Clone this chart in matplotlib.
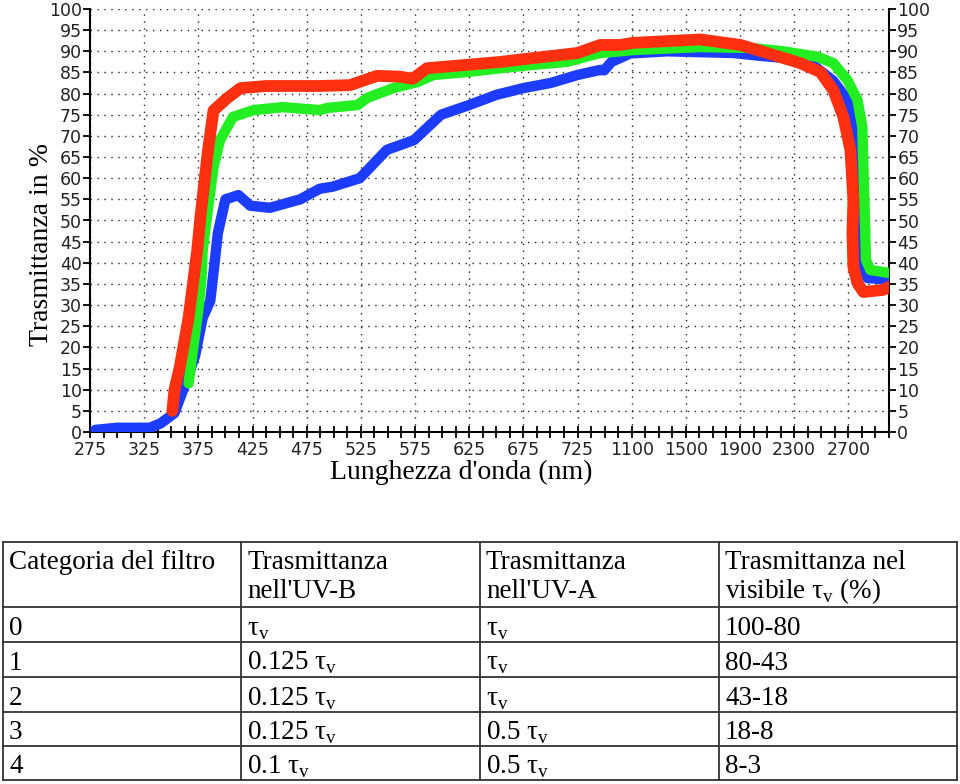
import numpy as np
import matplotlib
matplotlib.use("Agg")
import matplotlib.pyplot as plt
from matplotlib.ticker import FixedLocator, NullFormatter

plt.rcParams['mathtext.fontset'] = 'custom'
plt.rcParams['mathtext.rm'] = 'Liberation Serif'

# x axis labels (the axis is piecewise: 50 nm steps, then 400 nm steps)
tick_wl = [275, 325, 375, 425, 475, 525, 575, 625, 675, 725, 1100, 1500, 1900, 2300, 2700]
yticks = list(range(0, 101, 5))

# curves (wavelength nm, transmittance %)
blue_wl = [280, 300, 330, 340, 353, 361, 372, 379, 386, 390, 393, 400, 412, 423, 441, 469, 487,
           499, 524, 549, 574, 599, 625, 650, 675, 700, 725, 882, 910, 960, 1090, 1363, 1851,
           2028, 2200, 2450, 2589, 2693, 2752, 2775, 2789, 2841, 3000]
blue_t = [0.5, 1, 1, 2, 4.5, 10, 18, 27, 31, 40, 47, 55, 56, 53.5, 53, 55, 57.5,
          58, 60, 66.7, 69, 75, 77.3, 79.7, 81.3, 82.5, 84.4, 85.6, 85.5, 87.5, 89.5, 90, 89.6,
          89, 88.5, 86.5, 83, 78.5, 70.7, 47, 39, 36.4, 36]

red_wl = [351, 353, 358, 366, 370, 374, 377, 384, 389, 402, 414, 438, 487, 515, 540, 561, 573,
          586, 623, 654, 684, 725, 882, 1021, 1112, 1607, 1903, 2100, 2345, 2493, 2589, 2663,
          2715, 2737, 2730, 2737, 2767, 2811, 2958, 3000]
red_t = [5, 10, 15.5, 27, 35, 43, 51, 66.7, 76, 79, 81.3, 81.8, 81.8, 82, 84.2, 84, 83.5,
         86, 86.8, 87.5, 88.4, 89.6, 91.5, 91.5, 92, 92.8, 91.5, 89.6, 87.2, 85.1, 80.8, 74.5,
         66.7, 54.8, 47, 39, 35.2, 33.1, 33.6, 34.3]

green_wl = [366, 370, 375, 378, 379, 383, 389, 395, 407, 426, 453, 487, 494, 522, 531, 555, 577,
            592, 623, 654, 684, 715, 882, 1021, 1112, 1607, 1976, 2220, 2472, 2589, 2693, 2767,
            2803, 2811, 2825, 2830, 2862, 3000]
green_t = [11.5, 19.4, 28.8, 36.7, 43, 51, 62.6, 69, 74.5, 76.1, 76.8, 76.1, 76.6, 77.3, 79, 81.3, 82.7,
           84.4, 85.1, 86, 86.8, 87.5, 89.6, 90, 90.3, 91, 90.8, 90, 88.7, 87.2, 83.2, 78.5,
           72.1, 62.6, 47, 40.7, 38.3, 37.6]

# table
tv = r'$\mathrm{\tau}_\mathrm{v}$'
header = [["Categoria del filtro"], ["Trasmittanza", "nell'UV-B"],
          ["Trasmittanza", "nell'UV-A"], ["Trasmittanza nel", "visibile " + tv + " (%)"]]
categories = ["0", "1", "2", "3", "4"]
uvb = [tv, "0.125 " + tv, "0.125 " + tv, "0.125 " + tv, "0.1 " + tv]
uva = [tv, tv, tv, "0.5 " + tv, "0.5 " + tv]
visible = ["100-80", "80-43", "43-18", "18-8", "8-3"]

nodes_wl = tick_wl + [3100]
nodes_pos = list(range(len(nodes_wl)))


def fwd(w):
    return np.interp(w, nodes_wl, nodes_pos)


def inv(p):
    return np.interp(p, nodes_pos, nodes_wl)


fig = plt.figure(figsize=(9.6, 7.84), dpi=100)
W, H = 960, 784
ax = fig.add_axes([90 / W, 1 - 432 / H, (889 - 90) / W, (432 - 9) / H])
ax.set_xscale('function', functions=(fwd, inv))

ax.plot(blue_wl, blue_t, color='#1c3cff', lw=7.5, solid_capstyle='round', solid_joinstyle='round', zorder=3)
ax.plot(green_wl, green_t, color='#22ee22', lw=7.5, solid_capstyle='round', solid_joinstyle='round', zorder=4)
ax.plot(red_wl, red_t, color='#ff3010', lw=8.5, solid_capstyle='round', solid_joinstyle='round', zorder=5)

ax.set_xlim(275, 3000)
ax.set_ylim(0, 100)
ax.xaxis.set_major_locator(FixedLocator(tick_wl))
ax.set_xticklabels([str(t) for t in tick_wl])
ax.xaxis.set_minor_locator(FixedLocator(inv(np.arange(0, 14.8, 0.25))))
ax.xaxis.set_minor_formatter(NullFormatter())
ax.set_yticks(yticks)

ax.grid(True, which='major', color='#222222', linestyle=(0, (1, 4)), lw=1)
for s in ['left', 'bottom', 'right']:
    ax.spines[s].set_linewidth(1.5)
ax.spines['top'].set_visible(False)

ax.tick_params(axis='x', which='both', direction='inout', length=9, width=1.3,
               labelsize=12.5, pad=2)
ax.tick_params(axis='y', which='both', direction='out', length=5, width=1.3,
               labelsize=12.5, pad=1, right=True, labelright=True)
for lab in ax.get_xticklabels() + ax.get_yticklabels():
    lab.set_fontfamily('DejaVu Sans')
    lab.set_color('#222222')

fig.text(461 / W, 1 - 472 / H, "Lunghezza d'onda (nm)", family='Liberation Serif',
         fontsize=20, ha='center', va='center')
fig.text(42 / W, 1 - 245 / H, "Trasmittanza in %", family='Liberation Serif',
         fontsize=20, ha='center', va='center', rotation=90)

# table drawn in pixel coordinates
tax = fig.add_axes([0, 0, 1, 1])
tax.set_xlim(0, W)
tax.set_ylim(H, 0)
tax.axis('off')
col_x = [3, 241, 480, 719, 957]
row_y = [542, 607, 642, 677, 712, 746, 780]
for x in col_x:
    tax.plot([x, x], [row_y[0], row_y[-1]], color='#333333', lw=1.3)
for y in row_y:
    tax.plot([col_x[0], col_x[-1]], [y, y], color='#333333', lw=1.3)

tfont = dict(family='Liberation Serif', fontsize=19.5, ha='left', va='baseline', color='black')
for c, lines in enumerate(header):
    for k, line in enumerate(lines):
        tax.text(col_x[c] + 6, 569 + 29 * k, line, **tfont)

baselines = [635, 670, 705, 739, 773]
for r in range(len(categories)):
    row = [categories[r], uvb[r], uva[r], visible[r]]
    for c, val in enumerate(row):
        tax.text(col_x[c] + 6, baselines[r], val, **tfont)

fig.savefig('out.png', dpi=100)
